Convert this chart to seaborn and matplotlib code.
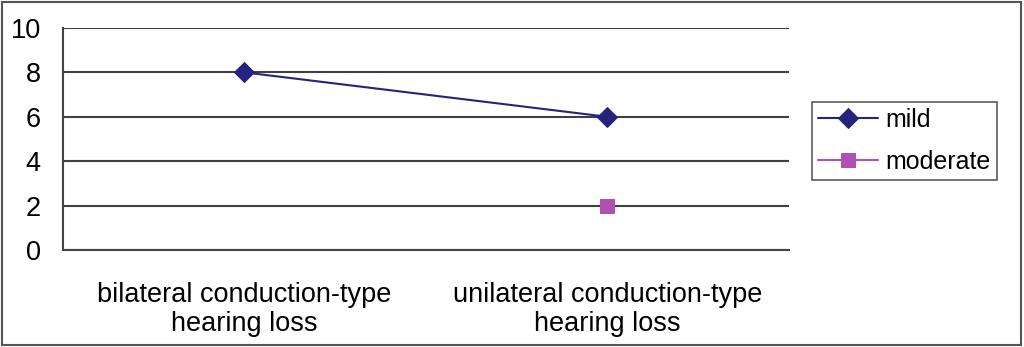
import pandas as pd
import numpy as np
import matplotlib
matplotlib.use("Agg")
import matplotlib.pyplot as plt
import seaborn as sns
from matplotlib.patches import Rectangle

# data
categories = ["bilateral conduction-type\nhearing loss", "unilateral conduction-type\nhearing loss"]
mild = [8, 6]
moderate = [np.nan, 2]

df = pd.DataFrame({
    "pos": list(range(len(categories))) * 2,
    "value": mild + moderate,
    "series": ["mild"] * len(mild) + ["moderate"] * len(moderate),
})

sns.set_style("white")
plt.rcParams["font.family"] = ["Liberation Sans", "DejaVu Sans"]
plt.rcParams["text.color"] = "black"
plt.rcParams["xtick.color"] = "black"
plt.rcParams["ytick.color"] = "black"

fig = plt.figure(figsize=(10.24, 3.47), dpi=100)
ax = fig.add_axes([0.0615, 0.2795, 0.709, 0.6398])

colors = {"mild": "#24247f", "moderate": "#b050b0"}
markers = {"mild": "D", "moderate": "s"}
for name, g in df.groupby("series"):
    sns.lineplot(data=g, x="pos", y="value", ax=ax, color=colors[name], marker=markers[name],
                 markersize=10 if name == "mild" else 10, markeredgecolor=colors[name],
                 linewidth=1.5, label=name)

ax.set_xlim(-0.5, len(categories) - 0.5)
ax.set_ylim(0, 10)
ax.set_yticks(range(0, 11, 2))
ax.set_xticks(range(len(categories)))
ax.set_xticklabels(categories, fontsize=19.5, linespacing=1.15)
ax.set_xticks(np.arange(-0.5, len(categories), 1), minor=True)
ax.tick_params(axis="x", which="major", length=0, pad=23)
ax.tick_params(axis="x", which="minor", length=8, width=1.3, color="#444444", direction="out")
ax.tick_params(axis="y", labelsize=19.5, length=8, width=1.3, color="#444444", direction="out",
               labelcolor="black", pad=8)
ax.yaxis.grid(True, color="#404040", linewidth=1.5)
ax.set_xlabel("")
ax.set_ylabel("")
for s in ["top", "right"]:
    ax.spines[s].set_visible(False)
for s in ["left", "bottom"]:
    ax.spines[s].set_color("#444444")
    ax.spines[s].set_linewidth(1.5)

leg = ax.legend(loc="center left", bbox_to_anchor=(0.793, 0.594), bbox_transform=fig.transFigure,
                fontsize=18, frameon=True, fancybox=False, edgecolor="#333333",
                handlelength=2.4, handletextpad=0.3, borderpad=0.25, labelspacing=0.72,
                borderaxespad=0)
leg.get_frame().set_linewidth(1.2)

fig.patches.append(Rectangle((0.002, 0.006), 0.995, 0.988, transform=fig.transFigure,
                             fill=False, edgecolor="#555555", linewidth=1.5))

fig.savefig("out.png", dpi=100)
